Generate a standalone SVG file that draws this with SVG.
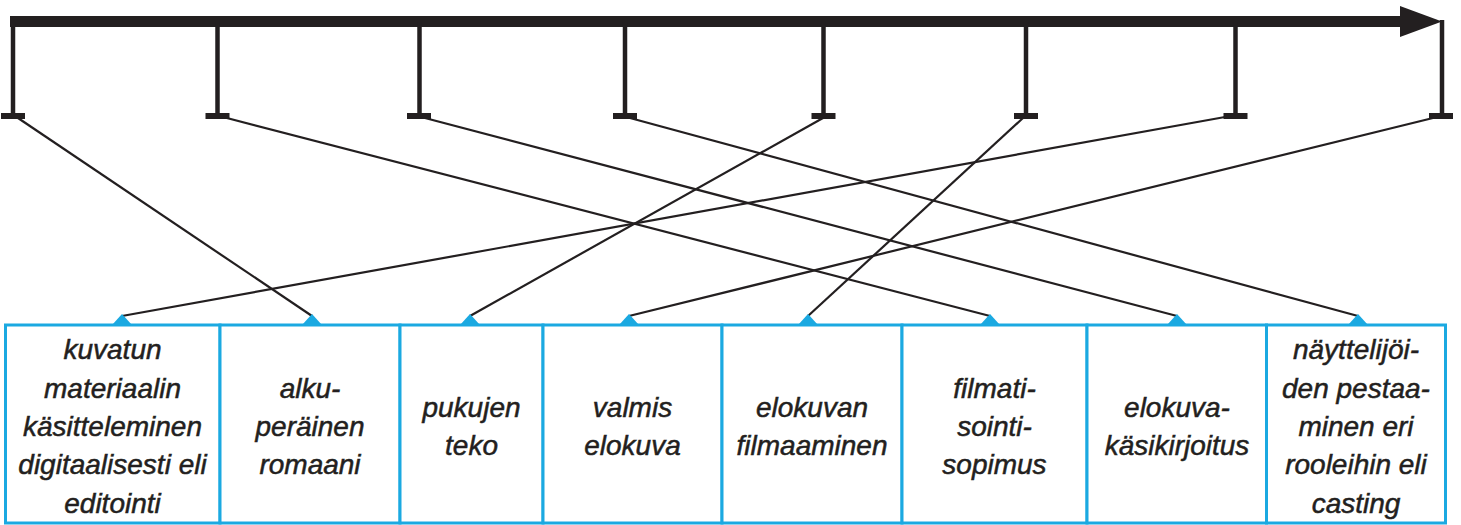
<svg xmlns="http://www.w3.org/2000/svg" width="1461" height="525" viewBox="0 0 1461 525">
<style>
.ink{fill:#231f20}
.tick{stroke:#231f20;stroke-width:4.5}
.conn{stroke:#231f20;stroke-width:2.2;fill:none}
.box{fill:#fff;stroke:#1ba9e1;stroke-width:3}
.tri{fill:#1ba9e1}
.lbl{font-family:"Liberation Sans",Arial,sans-serif;font-style:italic;font-size:28px;fill:#231f20;stroke:#231f20;stroke-width:0.5;text-anchor:middle}
</style>
<rect width="1461" height="525" fill="#fff"/>
<g id="timeline">
<rect class="ink" x="10" y="16" width="1393" height="11"/>
<polygon class="ink" points="1400,6 1442,21.5 1400,37"/>
<g id="ticks">
<line class="tick" x1="13" y1="22" x2="13" y2="116"/><rect class="ink" x="1" y="113" width="24" height="6"/>
<line class="tick" x1="217.5" y1="22" x2="217.5" y2="116"/><rect class="ink" x="205.5" y="113" width="24" height="6"/>
<line class="tick" x1="419.5" y1="22" x2="419.5" y2="116"/><rect class="ink" x="407" y="113" width="24" height="6"/>
<line class="tick" x1="625" y1="22" x2="625" y2="116"/><rect class="ink" x="613" y="113" width="24" height="6"/>
<line class="tick" x1="823.5" y1="22" x2="823.5" y2="116"/><rect class="ink" x="811.5" y="113" width="24" height="6"/>
<line class="tick" x1="1026" y1="22" x2="1026" y2="116"/><rect class="ink" x="1014" y="113" width="24" height="6"/>
<line class="tick" x1="1235.5" y1="22" x2="1235.5" y2="116"/><rect class="ink" x="1223.5" y="113" width="24" height="6"/>
<line class="tick" x1="1442" y1="20" x2="1442" y2="116"/><rect class="ink" x="1429" y="113" width="24" height="6"/>
</g>
</g>
<g id="connectors">
<line class="conn" x1="18" y1="118" x2="312" y2="316"/>
<line class="conn" x1="223" y1="117" x2="990" y2="316"/>
<line class="conn" x1="425" y1="118" x2="1177" y2="316"/>
<line class="conn" x1="630" y1="118" x2="1358" y2="316"/>
<line class="conn" x1="823" y1="118" x2="470" y2="316"/>
<line class="conn" x1="1023" y1="118" x2="808" y2="316"/>
<line class="conn" x1="1225" y1="117" x2="122" y2="316"/>
<line class="conn" x1="1433" y1="118" x2="629" y2="316"/>
</g>
<g id="boxes">
<g id="box1"><rect class="box" x="5.5" y="325" width="214.5" height="198"/>
<text class="lbl"><tspan x="112.5" y="359">kuvatun</tspan><tspan x="112.5" y="397.5">materiaalin</tspan><tspan x="112.5" y="436">käsitteleminen</tspan><tspan x="112.5" y="474">digitaalisesti eli</tspan><tspan x="112.5" y="512.5">editointi</tspan></text></g>
<g id="box2"><rect class="box" x="220" y="325" width="180" height="198"/>
<text class="lbl"><tspan x="310" y="397.5">alku-</tspan><tspan x="310" y="436">peräinen</tspan><tspan x="310" y="474">romaani</tspan></text></g>
<g id="box3"><rect class="box" x="400" y="325" width="143" height="198"/>
<text class="lbl"><tspan x="471.5" y="417">pukujen</tspan><tspan x="471.5" y="455">teko</tspan></text></g>
<g id="box4"><rect class="box" x="543" y="325" width="179" height="198"/>
<text class="lbl"><tspan x="632.5" y="417">valmis</tspan><tspan x="632.5" y="455">elokuva</tspan></text></g>
<g id="box5"><rect class="box" x="722" y="325" width="180" height="198"/>
<text class="lbl"><tspan x="812" y="417">elokuvan</tspan><tspan x="812" y="455">filmaaminen</tspan></text></g>
<g id="box6"><rect class="box" x="902" y="325" width="185" height="198"/>
<text class="lbl"><tspan x="994.5" y="397.5">filmati-</tspan><tspan x="994.5" y="436">sointi-</tspan><tspan x="994.5" y="474">sopimus</tspan></text></g>
<g id="box7"><rect class="box" x="1087" y="325" width="179.5" height="198"/>
<text class="lbl"><tspan x="1177" y="417">elokuva-</tspan><tspan x="1177" y="455">käsikirjoitus</tspan></text></g>
<g id="box8"><rect class="box" x="1266.5" y="325" width="179" height="198"/>
<text class="lbl"><tspan x="1356" y="359">näyttelijöi-</tspan><tspan x="1356" y="397.5">den pestaa-</tspan><tspan x="1356" y="436">minen eri</tspan><tspan x="1356" y="474">rooleihin eli</tspan><tspan x="1356" y="512.5">casting</tspan></text></g>
</g>
<g id="anchors">
<polygon class="tri" points="112,325 122,314 132,325"/>
<polygon class="tri" points="302,325 312,314 322,325"/>
<polygon class="tri" points="460,325 470,314 480,325"/>
<polygon class="tri" points="619,325 629,314 639,325"/>
<polygon class="tri" points="798,325 808,314 818,325"/>
<polygon class="tri" points="980,325 990,314 1000,325"/>
<polygon class="tri" points="1167,325 1177,314 1187,325"/>
<polygon class="tri" points="1348,325 1358,314 1368,325"/>
</g>
</svg>
